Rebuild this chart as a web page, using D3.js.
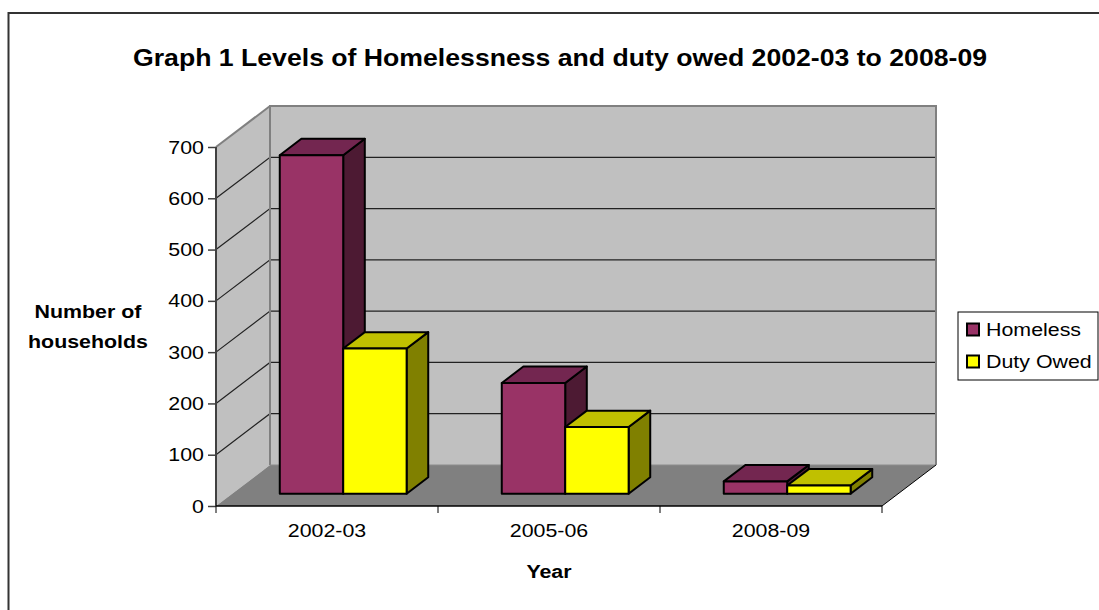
<!DOCTYPE html>
<html>
<head>
<meta charset="utf-8">
<script src="https://cdn.jsdelivr.net/npm/d3@7"></script>
<style>
  html, body { margin: 0; padding: 0; background: #fff; }
  svg { display: block; }
  text { font-family: Arial, "Liberation Sans", sans-serif; fill: #000; }
</style>
</head>
<body>
<svg id="chart" width="1099" height="610"></svg>
<script>
const title = "Graph 1 Levels of Homelessness and duty owed 2002-03 to 2008-09";
const categories = ["2002-03", "2005-06", "2008-09"];
const seriesNames = ["Homeless", "Duty Owed"];
const homeless = [660, 216, 24];
const dutyOwed = [283, 130, 16];
const yTicks = [0, 100, 200, 300, 400, 500, 600, 700];
const yAxisTitle = ["Number of", "households"];
const xAxisTitle = "Year";

const colors = {
  "Homeless":  { front: "#993366", top: "#732650", side: "#4d1a33" },
  "Duty Owed": { front: "#ffff00", top: "#c0c000", side: "#808000" }
};

const svg = d3.select("#chart");
const SX = 1.15; // horizontal text stretch

function label(x, y, str, size, anchor, bold, sx) {
  return svg.append("text")
    .attr("transform", `translate(${x},${y}) scale(${sx || SX},1)`)
    .attr("text-anchor", anchor)
    .attr("font-size", size)
    .attr("font-weight", bold ? "bold" : "normal")
    .text(str);
}

// outer frame
svg.append("rect").attr("x", 8.5).attr("y", 13).attr("width", 1200).attr("height", 700)
  .attr("fill", "none").attr("stroke", "#333").attr("stroke-width", 2);

// plot geometry
const x = d3.scaleBand().domain(categories).range([216, 882]).padding(0);
const y = d3.scaleLinear().domain([0, 700]).range([506, 147]);
const DX = 54, DY = -41;
const P = (px, py, d) => [px + DX * d, py + DY * d];
const line = pts => "M" + pts.map(p => p.join(",")).join("L") + "Z";

const x0 = x.range()[0], x1 = x.range()[1];
const yTop = y(700), yBot = y(0);

// back wall
svg.append("path").attr("d", line([P(x0, yTop, 1), P(x1, yTop, 1), P(x1, yBot, 1), P(x0, yBot, 1)]))
  .attr("fill", "#c0c0c0").attr("stroke", "none");
// side wall
svg.append("path").attr("d", line([P(x0, yTop, 0), P(x0, yTop, 1), P(x0, yBot, 1), P(x0, yBot, 0)]))
  .attr("fill", "#c0c0c0").attr("stroke", "none");
// floor
svg.append("path").attr("d", line([P(x0, yBot, 0), P(x0, yBot, 1), P(x1, yBot, 1), P(x1, yBot, 0)]))
  .attr("fill", "#808080").attr("stroke", "none");

// gridlines (back wall and side wall)
yTicks.filter(t => t > 0 && t < 700).forEach(t => {
  const a = P(x0, y(t), 0), b = P(x0, y(t), 1), c = P(x1, y(t), 1);
  svg.append("path").attr("d", `M${a}L${b}L${c}`).attr("fill", "none")
    .attr("stroke", "#222").attr("stroke-width", 1.2);
});
// top side diagonal
{
  const a = P(x0, yTop, 0), b = P(x0, yTop, 1);
  svg.append("path").attr("d", `M${a}L${b}`).attr("stroke", "#808080").attr("stroke-width", 2);
}
// wall edges
{
  const a = P(x0, yTop, 1), b = P(x1, yTop, 1), c = P(x1, yBot, 1), e = P(x0, yBot, 1);
  svg.append("path").attr("d", `M${e}L${a}L${b}L${c}`).attr("fill", "none")
    .attr("stroke", "#808080").attr("stroke-width", 2);
  svg.append("path").attr("d", `M${e}L${c}`).attr("fill", "none")
    .attr("stroke", "#8c8c8c").attr("stroke-width", 1);
}
// floor right edge
{
  const a = P(x1, yBot, 0), b = P(x1, yBot, 1);
  svg.append("path").attr("d", `M${a}L${b}`).attr("stroke", "#000").attr("stroke-width", 1);
}

// bars
const bw = x.bandwidth() / 3.5;
const inner = d3.scaleBand().domain(seriesNames).range([0.75 * bw, 2.75 * bw]).padding(0);
const D0 = 0.3, D1 = 0.7;
const seriesVals = { "Homeless": homeless, "Duty Owed": dutyOwed };

categories.forEach((cat, i) => {
  seriesNames.forEach(s => {
    const v = seriesVals[s][i];
    const left = x(cat) + inner(s), right = left + inner.bandwidth();
    const top = y(v), bot = y(0);
    const g = svg.append("g").attr("stroke", "#000").attr("stroke-width", 2).attr("stroke-linejoin", "round");
    g.append("path").attr("d", line([P(right, top, D0), P(right, top, D1), P(right, bot, D1), P(right, bot, D0)]))
      .attr("fill", colors[s].side);
    g.append("path").attr("d", line([P(left, top, D0), P(left, top, D1), P(right, top, D1), P(right, top, D0)]))
      .attr("fill", colors[s].top);
    g.append("path").attr("d", line([P(left, top, D0), P(right, top, D0), P(right, bot, D0), P(left, bot, D0)]))
      .attr("fill", colors[s].front);
  });
});

// y axis
const yAxis = d3.axisLeft(y).tickValues(yTicks).tickSize(8).tickPadding(4).tickFormat(d3.format("d"));
const gy = svg.append("g").attr("transform", `translate(${x0},0)`).call(yAxis);
gy.select(".domain").attr("stroke", "#404040").attr("stroke-width", 2).attr("d", `M0,${yTop}V${yBot}`);
gy.selectAll(".tick line").attr("stroke", "#404040").attr("stroke-width", 1.5);
gy.selectAll(".tick text").remove();
yTicks.forEach(t => label(x0 - 12, y(t) + 6.5, String(t), 18.6, "end", false));

// x axis
const xAxis = d3.axisBottom(x).tickSize(0).tickFormat("");
const gx = svg.append("g").attr("transform", `translate(0,${yBot})`).call(xAxis);
gx.select(".domain").attr("stroke", "#000").attr("stroke-width", 1.5).attr("d", `M${x0},0H${x1}`);
const xEdges = categories.map(c => x(c)).concat([x1]);
svg.append("g").selectAll("line").data(xEdges).join("line")
  .attr("x1", d => d).attr("x2", d => d).attr("y1", yBot).attr("y2", yBot + 7)
  .attr("stroke", "#000").attr("stroke-width", 1);
categories.forEach(c => label(x(c) + x.bandwidth() / 2, 537, c, 18.6, "middle", false));

// axis titles
label(88, 318, yAxisTitle[0], 18.6, "middle", true);
label(88, 348, yAxisTitle[1], 18.6, "middle", true);
label(549, 578, xAxisTitle, 18.6, "middle", true);

// title
svg.append("text").attr("x", 560).attr("y", 66).attr("text-anchor", "middle")
  .attr("font-size", 24).attr("font-weight", "bold")
  .attr("textLength", 854).attr("lengthAdjust", "spacingAndGlyphs").text(title);

// legend
const lg = svg.append("g");
lg.append("rect").attr("x", 958).attr("y", 312).attr("width", 140).attr("height", 68)
  .attr("fill", "#fff").attr("stroke", "#000").attr("stroke-width", 1);
seriesNames.forEach((s, i) => {
  const cy = 329.5 + i * 32;
  lg.append("rect").attr("x", 967).attr("y", cy - 6).attr("width", 12).attr("height", 12)
    .attr("fill", colors[s].front).attr("stroke", "#000").attr("stroke-width", 2);
  label(986, cy + 6.5, s, 18.6, "start", false);
});
</script>
</body>
</html>
